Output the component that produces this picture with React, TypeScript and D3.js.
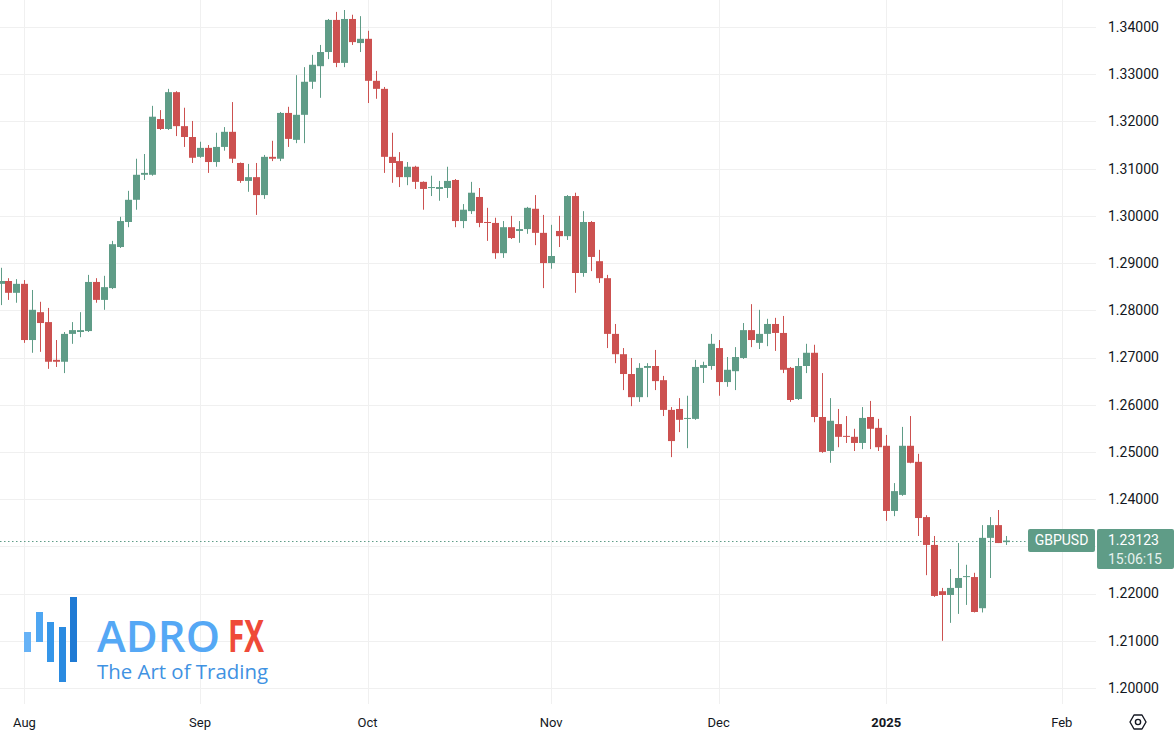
import React from "react";
import * as d3 from "d3";

const opens = [1.2856,1.2862,1.2837,1.2856,1.2737,1.2796,1.2775,1.2695,1.2691,1.2750,1.2754,1.2756,1.2860,1.2822,1.2847,1.2934,1.2987,1.3034,1.3087,1.3087,1.3205,1.3184,1.3262,1.3190,1.3167,1.3125,1.3144,1.3114,1.3146,1.3178,1.3112,1.3074,1.3082,1.3044,1.3125,1.3121,1.3218,1.3161,1.3214,1.3284,1.3317,1.3347,1.3415,1.3324,1.3417,1.3366,1.3375,1.3286,1.3269,1.3125,1.3116,1.3082,1.3104,1.3072,1.3059,1.3057,1.3059,1.3076,1.2989,1.3010,1.3040,1.2987,1.2985,1.2921,1.2976,1.2968,1.2972,1.3015,1.2964,1.2900,1.2968,1.2957,1.3042,1.2879,1.2987,1.2904,1.2868,1.2750,1.2707,1.2665,1.2616,1.2678,1.2682,1.2652,1.2589,1.2591,1.2570,1.2570,1.2678,1.2682,1.2720,1.2648,1.2671,1.2699,1.2758,1.2731,1.2750,1.2771,1.2752,1.2678,1.2612,1.2682,1.2710,1.2574,1.2502,1.2559,1.2534,1.2532,1.2519,1.2574,1.2551,1.2513,1.2375,1.2409,1.2513,1.2479,1.2362,1.2303,1.2205,1.2197,1.2212,1.2235,1.2235,1.2169,1.2318,1.2345,1.2309];
const highs = [1.2890,1.2868,1.2866,1.2864,1.2843,1.2818,1.2805,1.2737,1.2754,1.2775,1.2796,1.2875,1.2868,1.2873,1.2947,1.2998,1.3053,1.3121,1.3131,1.3233,1.3224,1.3269,1.3264,1.3229,1.3201,1.3157,1.3150,1.3176,1.3188,1.3241,1.3113,1.3110,1.3112,1.3129,1.3159,1.3220,1.3231,1.3298,1.3315,1.3341,1.3362,1.3417,1.3432,1.3436,1.3426,1.3423,1.3392,1.3307,1.3273,1.3176,1.3135,1.3114,1.3106,1.3073,1.3085,1.3074,1.3104,1.3078,1.3025,1.3072,1.3059,1.3017,1.2996,1.2989,1.3000,1.2989,1.3019,1.3044,1.3002,1.2981,1.3000,1.3044,1.3049,1.3010,1.2989,1.2928,1.2875,1.2771,1.2720,1.2699,1.2688,1.2688,1.2716,1.2661,1.2595,1.2614,1.2619,1.2695,1.2691,1.2750,1.2737,1.2701,1.2722,1.2773,1.2813,1.2801,1.2782,1.2784,1.2788,1.2680,1.2699,1.2729,1.2727,1.2667,1.2614,1.2591,1.2576,1.2549,1.2595,1.2608,1.2570,1.2536,1.2434,1.2553,1.2576,1.2496,1.2366,1.2322,1.2212,1.2252,1.2307,1.2261,1.2244,1.2345,1.2362,1.2377,1.2322];
const lows = [1.2811,1.2822,1.2816,1.2731,1.2710,1.2712,1.2676,1.2680,1.2667,1.2729,1.2743,1.2754,1.2816,1.2801,1.2845,1.2932,1.2976,1.3013,1.3076,1.3085,1.3182,1.3182,1.3169,1.3146,1.3112,1.3123,1.3091,1.3104,1.3138,1.3112,1.3070,1.3051,1.3002,1.3036,1.3116,1.3116,1.3146,1.3154,1.3154,1.3269,1.3250,1.3332,1.3315,1.3315,1.3362,1.3347,1.3239,1.3248,1.3091,1.3070,1.3061,1.3065,1.3057,1.3013,1.3042,1.3032,1.3038,1.2976,1.2974,1.3004,1.2976,1.2947,1.2909,1.2911,1.2951,1.2943,1.2962,1.2938,1.2847,1.2888,1.2934,1.2949,1.2837,1.2871,1.2883,1.2858,1.2720,1.2688,1.2631,1.2597,1.2606,1.2616,1.2631,1.2576,1.2489,1.2542,1.2508,1.2568,1.2646,1.2674,1.2619,1.2638,1.2631,1.2697,1.2722,1.2718,1.2724,1.2714,1.2667,1.2606,1.2610,1.2667,1.2563,1.2498,1.2477,1.2510,1.2519,1.2502,1.2506,1.2506,1.2502,1.2354,1.2364,1.2407,1.2476,1.2322,1.2239,1.2193,1.2100,1.2138,1.2157,1.2176,1.2160,1.2160,1.2233,1.2307,1.2303];
const closes = [1.2862,1.2837,1.2856,1.2737,1.2801,1.2773,1.2691,1.2691,1.2750,1.2758,1.2758,1.2860,1.2822,1.2849,1.2940,1.2989,1.3034,1.3087,1.3091,1.3210,1.3184,1.3262,1.3190,1.3167,1.3123,1.3144,1.3114,1.3146,1.3178,1.3121,1.3074,1.3082,1.3044,1.3125,1.3121,1.3218,1.3163,1.3214,1.3284,1.3320,1.3347,1.3415,1.3324,1.3417,1.3368,1.3375,1.3286,1.3269,1.3125,1.3112,1.3082,1.3104,1.3072,1.3057,1.3061,1.3061,1.3074,1.2989,1.3013,1.3049,1.2985,1.2985,1.2921,1.2976,1.2953,1.2972,1.3017,1.2964,1.2900,1.2915,1.2957,1.3042,1.2879,1.2987,1.2913,1.2868,1.2750,1.2707,1.2665,1.2616,1.2678,1.2682,1.2650,1.2589,1.2523,1.2568,1.2572,1.2680,1.2684,1.2729,1.2648,1.2674,1.2701,1.2758,1.2737,1.2750,1.2771,1.2752,1.2674,1.2610,1.2682,1.2710,1.2574,1.2500,1.2566,1.2532,1.2532,1.2519,1.2572,1.2549,1.2510,1.2375,1.2417,1.2513,1.2477,1.2360,1.2303,1.2195,1.2197,1.2212,1.2233,1.2237,1.2161,1.2318,1.2345,1.2307,1.23123];

const startDate = "2024-07-29";
const holidays = ["2024-12-25", "2025-01-01"];
const monthNames = ["Jan","Feb","Mar","Apr","May","Jun","Jul","Aug","Sep","Oct","Nov","Dec"];
const priceTicks = [1.20,1.21,1.22,1.23,1.24,1.25,1.26,1.27,1.28,1.29,1.30,1.31,1.32,1.33,1.34];
const symbol = "GBPUSD";
const lastPrice = 1.23123;
const countdown = "15:06:15";

function tradingDays(start: string, count: number): Date[] {
  const out: Date[] = [];
  const d = new Date(start + "T00:00:00Z");
  while (out.length < count) {
    const dow = d.getUTCDay();
    const iso = d.toISOString().slice(0, 10);
    if (dow !== 0 && dow !== 6 && !holidays.includes(iso)) out.push(new Date(d));
    d.setUTCDate(d.getUTCDate() + 1);
  }
  return out;
}

const GREEN = "#5f9c87";
const RED = "#cc5150";

export default function App() {
  const W = 1174, H = 740;
  const plotRight = 1096;
  const dates = tradingDays(startDate, 140);
  const x = d3.scaleLinear().domain([0, 133]).range([0.5, 1061.8]);
  const y = d3.scaleLinear().domain([1.20, 1.34]).range([688, 27]);

  const marks: { i: number; label: string; bold: boolean }[] = [];
  dates.forEach((dt, i) => {
    if (i === 0) return;
    if (dt.getUTCMonth() !== dates[i - 1].getUTCMonth()) {
      const m = dt.getUTCMonth();
      if (x(i) < plotRight) marks.push({ i, label: m === 0 ? String(dt.getUTCFullYear()) : monthNames[m], bold: m === 0 });
    }
  });

  const candles = opens.map((o, i) => ({ i, o, h: highs[i], l: lows[i], c: closes[i] }));
  const lp = y(lastPrice);
  const font = "Roboto, 'Liberation Sans', Arial, sans-serif";
  const visibleTicks = priceTicks.filter((p) => Math.abs(y(p) - (lp + 8)) > 22);

  return (
    <svg width={W} height={H} style={{ position: "absolute", left: 0, top: 0, background: "#fff" }} fontFamily={font}>
      <rect x={0} y={0} width={W} height={H} fill="#ffffff" />
      {priceTicks.map((p) => (
        <line key={"h" + p} x1={0} x2={plotRight} y1={Math.round(y(p)) + 0.5} y2={Math.round(y(p)) + 0.5} stroke="#f0f0f0" strokeWidth={1} />
      ))}
      {marks.map((m) => (
        <line key={"v" + m.i} x1={Math.round(x(m.i)) + 0.5} x2={Math.round(x(m.i)) + 0.5} y1={0} y2={704} stroke="#f0f0f0" strokeWidth={1} />
      ))}

      <g>
        {[
          { x0: 24, y0: 632, y1: 652, c: "#66b2f6" },
          { x0: 36, y0: 612, y1: 642, c: "#4ea6f2" },
          { x0: 47, y0: 622, y1: 662, c: "#3596e9" },
          { x0: 59, y0: 627, y1: 682, c: "#2a8ae0" },
          { x0: 70, y0: 597, y1: 662, c: "#1f7ad4" },
        ].map((b, k) => (
          <rect key={"lb" + k} x={b.x0} y={b.y0} width={7} height={b.y1 - b.y0} fill={b.c} />
        ))}
        <text x={97} y={652} fontSize={44} fontWeight={600} fill="#55a8f5" textLength={123} lengthAdjust="spacingAndGlyphs" fontFamily="'Open Sans', sans-serif">ADRO</text>
        <text x={228} y={652} fontSize={44} fontWeight={700} fill="#ef4a38" textLength={36} lengthAdjust="spacingAndGlyphs" fontFamily="'Open Sans', sans-serif">FX</text>
        <text x={97} y={679} fontSize={20} fill="#3f92e2" textLength={171} lengthAdjust="spacingAndGlyphs" fontFamily="'Open Sans', sans-serif">The Art of Trading</text>
      </g>

      <line x1={0} x2={1028} y1={Math.round(lp) + 0.5} y2={Math.round(lp) + 0.5} stroke={GREEN} strokeWidth={1.2} strokeDasharray="1.5,2.5" />

      {candles.map((d) => {
        const cx = Math.round(x(d.i));
        const col = d.c >= d.o ? GREEN : RED;
        const top = y(Math.max(d.o, d.c));
        const bot = y(Math.min(d.o, d.c));
        return (
          <g key={"c" + d.i}>
            <rect x={cx} y={y(d.h)} width={1} height={Math.max(1, y(d.l) - y(d.h))} fill={col} />
            <rect x={cx - 3} y={top} width={7} height={Math.max(1, bot - top)} fill={col} />
          </g>
        );
      })}

      {visibleTicks.map((p) => (
        <text key={"t" + p} x={1108} y={y(p)} dy="0.35em" fontSize={14} fill="#131722">{p.toFixed(5)}</text>
      ))}

      <rect x={1028} y={529} width={67} height={23} rx={2} fill={GREEN} />
      <text x={1061.5} y={540.5} dy="0.35em" textAnchor="middle" fontSize={14} fill="#ffffff">{symbol}</text>
      <rect x={1097} y={529} width={77} height={40} rx={2} fill={GREEN} />
      <text x={1108} y={540} dy="0.35em" fontSize={14} fill="#ffffff">{lastPrice.toFixed(5)}</text>
      <text x={1108} y={559} dy="0.35em" fontSize={14} fill="#e6f2ee">{countdown}</text>

      {marks.map((m) => (
        <text key={"m" + m.i} x={x(m.i)} y={722} dy="0.35em" textAnchor="middle" fontSize={13} fontWeight={m.bold ? 700 : 400} fill="#131722">{m.label}</text>
      ))}

      <g transform="translate(1138,722)" fill="none" stroke="#131722" strokeWidth={1.4}>
        <path d="M-4,-7 L4,-7 L8,0 L4,7 L-4,7 L-8,0 Z" strokeLinejoin="round" />
        <circle r={2.6} />
      </g>
    </svg>
  );
}
